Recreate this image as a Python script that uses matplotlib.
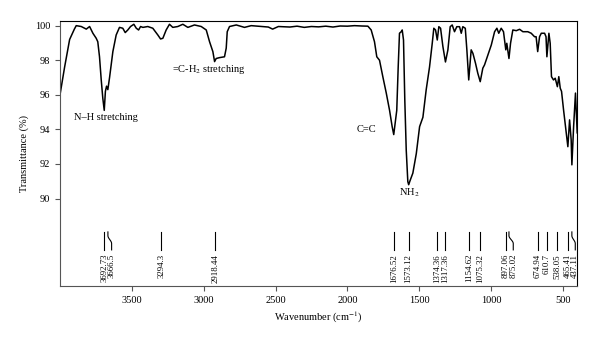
import matplotlib
matplotlib.use("Agg")
import matplotlib.pyplot as plt
import numpy as np

plt.rcParams['font.family'] = ['Liberation Serif', 'DejaVu Serif']
plt.rcParams['mathtext.fontset'] = 'stix'

# IR spectrum (wavenumber in cm^-1, transmittance in %)
wavenumber = [4000, 3968, 3933, 3900, 3887, 3852, 3817, 3794, 3771, 3748, 3737, 3725,
              3713, 3702, 3692, 3684, 3676, 3667, 3655, 3632, 3609, 3586, 3563, 3546,
              3528, 3509, 3486, 3469, 3453, 3439, 3423, 3389, 3354, 3319, 3300, 3284,
              3261, 3238, 3215, 3180, 3145, 3110, 3064, 3017, 2982, 2959, 2936, 2924,
              2913, 2890, 2855, 2843, 2836, 2820, 2773, 2716, 2669, 2600, 2550, 2520,
              2480, 2400, 2350, 2300, 2250, 2200, 2150, 2100, 2050, 2000, 1950, 1900,
              1857, 1834, 1811, 1795, 1776, 1753, 1729, 1706, 1688, 1677, 1656, 1646,
              1637, 1625, 1618, 1609, 1600, 1590, 1579, 1573, 1565, 1544, 1520, 1497,
              1474, 1451, 1428, 1409, 1398, 1386, 1374, 1363, 1351, 1335, 1317, 1300,
              1284, 1270, 1254, 1238, 1219, 1207, 1196, 1179, 1168, 1155, 1138, 1126,
              1108, 1092, 1075, 1057, 1045, 1022, 998, 975, 959, 946, 929, 913,
              897, 890, 875, 864, 848, 824, 801, 778, 744, 720, 697, 686,
              675, 662, 650, 627, 617, 611, 597, 588, 579, 565, 553, 538,
              528, 518, 509, 495, 481, 465, 453, 442, 437, 425, 412, 400]
transmittance = [96.0, 97.6, 99.2, 99.8, 100.0, 99.95, 99.8, 99.95, 99.56, 99.27, 99.07, 98.2,
                 96.86, 95.8, 95.1, 96.2, 96.5, 96.3, 97.0, 98.5, 99.46, 99.9, 99.85, 99.6,
                 99.75, 99.95, 100.08, 99.85, 99.75, 99.95, 99.9, 99.95, 99.85, 99.46, 99.23, 99.27,
                 99.75, 100.08, 99.9, 99.95, 100.08, 99.9, 100.04, 99.95, 99.75, 99.07, 98.5, 97.92,
                 98.1, 98.15, 98.2, 98.7, 99.65, 99.95, 100.04, 99.9, 100.0, 99.95, 99.92, 99.8,
                 99.95, 99.92, 99.97, 99.9, 99.95, 99.93, 99.97, 99.92, 99.98, 99.97, 100.0, 99.98,
                 99.97, 99.75, 99.07, 98.2, 98.0, 97.05, 96.1, 95.1, 94.16, 93.7, 95.1, 97.6,
                 99.56, 99.65, 99.75, 99.17, 95.7, 92.8, 90.98, 90.8, 91.0, 91.47, 92.6, 94.16,
                 94.7, 96.3, 97.6, 98.98, 99.85, 99.75, 99.17, 99.94, 99.85, 98.8, 97.9, 98.6,
                 99.94, 100.04, 99.65, 99.94, 99.94, 99.56, 99.94, 99.85, 98.6, 96.86, 98.6, 98.4,
                 97.83, 97.25, 96.76, 97.54, 97.73, 98.3, 98.88, 99.65, 99.85, 99.56, 99.85, 99.65,
                 98.6, 98.98, 98.1, 98.98, 99.75, 99.71, 99.79, 99.65, 99.65, 99.56, 99.36, 99.36,
                 98.5, 99.36, 99.56, 99.56, 99.36, 98.2, 99.56, 98.98, 97.05, 96.86, 96.96, 96.47,
                 97.05, 96.38, 96.2, 95.13, 94.16, 93.0, 94.55, 93.4, 91.95, 94.16, 96.1, 93.8]

peaks = [3692.73, 3666.5, 3294.3, 2918.44, 1676.52, 1573.12, 1374.36, 1317.36,
         1154.62, 1075.32, 897.06, 875.02, 674.94, 610.7, 538.05, 465.41, 437.11]
peak_labels = ["3692.73", "3666.5", "3294.3", "2918.44", "1676.52", "1573.12", "1374.36",
               "1317.36", "1154.62", "1075.32", "897.06", "875.02", "674.94", "610.7",
               "538.05", "465.41", "437.11"]

notes = ["N\u2013H stretching", "=C-H$_2$ stretching", "C=C", "NH$_2$"]
note_x = [3906, 3217, 1868, 1567]
note_y = [94.68, 97.44, 93.97, 90.32]
note_ha = ["left", "left", "center", "center"]

fig = plt.figure(figsize=(6, 3.44), dpi=100)
ax = fig.add_axes([0.1, 0.169, 0.862, 0.77])

ax.plot(wavenumber, transmittance, color='black', lw=1.1)

# peak markers with labels; labels that crowd get nudged to the right
lab_x = []
for i, p in enumerate(peaks):
    if i > 0 and lab_x[-1] - p < 50:
        lab_x.append(lab_x[-1] - 52)
    else:
        lab_x.append(p)
for p, lx, txt in zip(peaks, lab_x, peak_labels):
    if lx == p:
        ax.plot([p, p], [88.07, 87.03], color='black', lw=0.8)
    else:
        # small s-bend from the peak to the shifted label
        s = np.linspace(0, 1, 12)
        bx = p + (lx - p) * (3 * s**2 - 2 * s**3)
        by = 87.85 - 0.45 * s
        ax.plot(np.r_[p, bx, lx], np.r_[88.07, by, 87.03], color='black', lw=0.8)
    ax.text(lx, 86.8, txt, rotation=90, ha='center', va='top', fontsize=6.3)

for t, x, y, h in zip(notes, note_x, note_y, note_ha):
    ax.text(x, y, t, ha=h, va='center', fontsize=7.5)

ax.set_xlim(4000, 400)
ax.set_ylim(84.95, 100.27)
ax.set_xticks([3500, 3000, 2500, 2000, 1500, 1000, 500])
ax.set_yticks([90, 92, 94, 96, 98, 100])
ax.spines['left'].set_color('#555555')
ax.spines['bottom'].set_color('#555555')
ax.tick_params(labelsize=7.5, length=3.5, width=0.8, direction='out', color='#555555')
ax.set_xlabel("Wavenumber (cm$^{-1}$)", fontsize=7.5)
ax.set_ylabel("Transmittance (%)", fontsize=7.5)

fig.savefig("out.png", dpi=100)
